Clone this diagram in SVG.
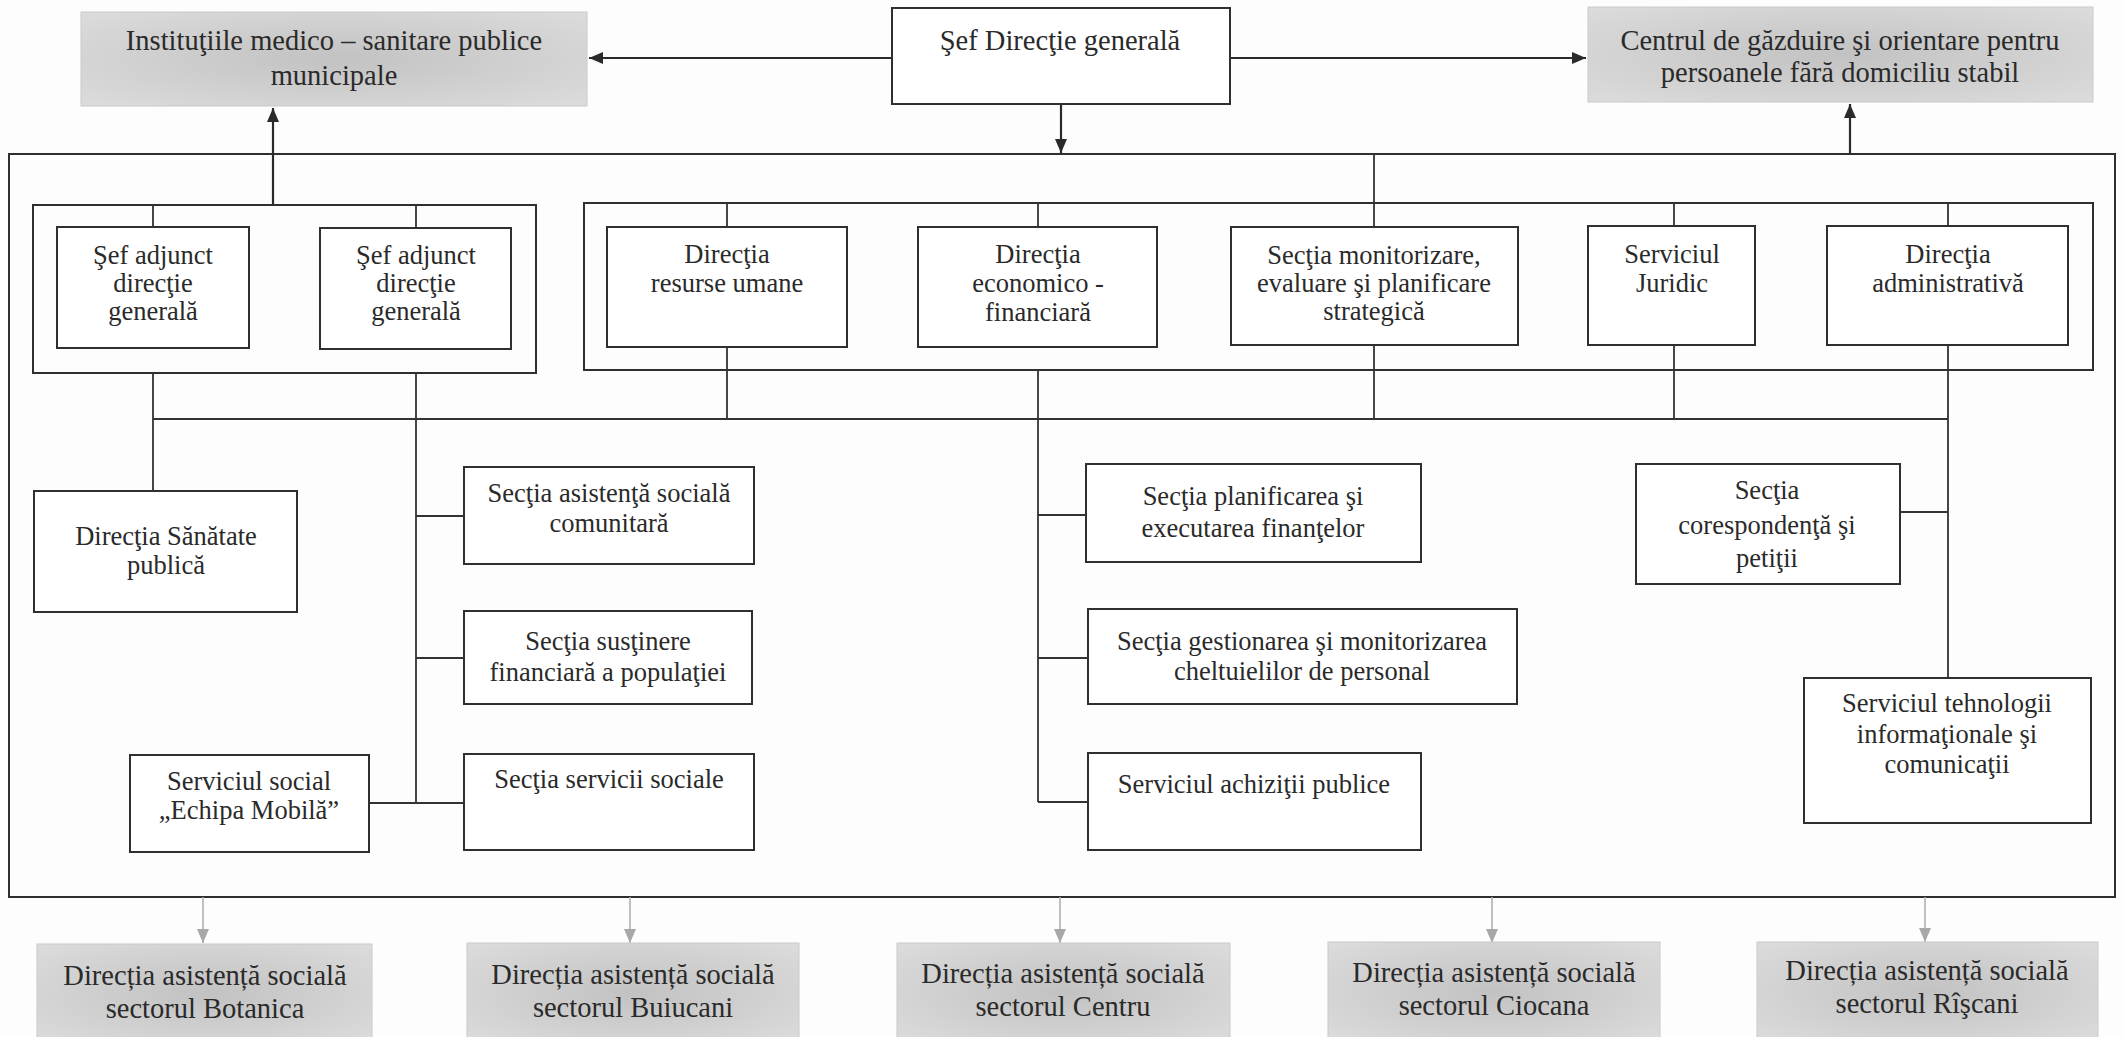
<svg xmlns="http://www.w3.org/2000/svg" width="2124" height="1037" viewBox="0 0 2124 1037">
<defs>
<radialGradient id="gray" cx="50%" cy="50%" r="70%">
<stop offset="0" stop-color="#c2c2c2"/>
<stop offset="1" stop-color="#dcdcdc"/>
</radialGradient>
<marker id="ah" viewBox="0 0 14 12" refX="14" refY="6" markerWidth="14" markerHeight="12" markerUnits="userSpaceOnUse" orient="auto"><path d="M0,0 L14,6 L0,12 z" fill="#2a2a2a"/></marker>
<marker id="ahg" viewBox="0 0 14 12" refX="14" refY="6" markerWidth="14" markerHeight="12" markerUnits="userSpaceOnUse" orient="auto"><path d="M0,0 L14,6 L0,12 z" fill="#a8a8a8"/></marker>
<style>
.box{fill:#fff;stroke:#2f2f2f;stroke-width:2}
.grp{fill:none;stroke:#2f2f2f;stroke-width:2}
.gbox{fill:url(#gray);stroke:#cacaca;stroke-width:1}
.ln{stroke:#333;stroke-width:1.8;fill:none}
.arr{stroke:#2a2a2a;stroke-width:2.2;fill:none;marker-end:url(#ah)}
.garr{stroke:#b0b0b0;stroke-width:1.6;fill:none;marker-end:url(#ahg)}
text{font-family:"Liberation Serif","Times New Roman",serif;fill:#2a2a2a;text-anchor:middle}
.t{font-size:26.5px}
.T{font-size:28.5px}
</style>
</defs>
<rect width="2124" height="1037" fill="#fdfdfd"/>

<g id="frames">
<rect class="grp" x="9" y="154" width="2106" height="743"/>
<rect class="grp" x="33" y="205" width="503" height="168"/>
<rect class="grp" x="584" y="203" width="1509" height="167"/>
</g>

<g id="connectors">
<path class="arr" d="M892,58 H589"/>
<path class="arr" d="M1230,58 H1586"/>
<path class="arr" d="M1061,104 V153"/>
<path class="arr" d="M273,205 V108"/>
<path class="arr" d="M1850,154 V104"/>
<path class="ln" d="M153,205 V227 M416,205 V228 M727,203 V227 M1038,203 V227 M1374,154 V227 M1674,203 V226 M1948,203 V226"/>
<path class="ln" d="M153,373 V491 M416,373 V803 M727,347 V419 M1038,370 V802 M1374,345 V419 M1674,345 V419 M1948,345 V678"/>
<path class="ln" d="M153,419 H1948"/>
<path class="ln" d="M416,516 H464 M416,658 H464 M369,803 H464 M1038,515 H1086 M1038,658 H1088 M1038,802 H1088 M1900,512 H1948"/>
<path class="garr" d="M203,897 V943"/>
<path class="garr" d="M630,897 V943"/>
<path class="garr" d="M1060,897 V943"/>
<path class="garr" d="M1492,897 V943"/>
<path class="garr" d="M1925,897 V942"/>
</g>

<g id="n-institutii">
<rect class="gbox" x="81" y="12" width="506" height="94"/>
<text class="T" x="334" y="50">Instituţiile medico – sanitare publice</text>
<text class="T" x="334" y="85">municipale</text>
</g>
<g id="n-sef">
<rect class="box" x="892" y="8" width="338" height="96"/>
<text class="T" x="1060" y="50">Şef Direcţie generală</text>
</g>
<g id="n-centrul">
<rect class="gbox" x="1588" y="7" width="505" height="95"/>
<text class="T" x="1840" y="50">Centrul de găzduire şi orientare pentru</text>
<text class="T" x="1840" y="82">persoanele fără domiciliu stabil</text>
</g>

<g id="n-adj1">
<rect class="box" x="57" y="227" width="192" height="121"/>
<text class="t" x="153" y="264">Şef adjunct</text>
<text class="t" x="153" y="292">direcţie</text>
<text class="t" x="153" y="320">generală</text>
</g>
<g id="n-adj2">
<rect class="box" x="320" y="228" width="191" height="121"/>
<text class="t" x="416" y="264">Şef adjunct</text>
<text class="t" x="416" y="292">direcţie</text>
<text class="t" x="416" y="320">generală</text>
</g>
<g id="n-resurse">
<rect class="box" x="607" y="227" width="240" height="120"/>
<text class="t" x="727" y="263">Direcţia</text>
<text class="t" x="727" y="292">resurse umane</text>
</g>
<g id="n-economico">
<rect class="box" x="918" y="227" width="239" height="120"/>
<text class="t" x="1038" y="263">Direcţia</text>
<text class="t" x="1038" y="292">economico -</text>
<text class="t" x="1038" y="321">financiară</text>
</g>
<g id="n-monitorizare">
<rect class="box" x="1231" y="227" width="287" height="118"/>
<text class="t" x="1374" y="264">Secţia monitorizare,</text>
<text class="t" x="1374" y="292">evaluare şi planificare</text>
<text class="t" x="1374" y="320">strategică</text>
</g>
<g id="n-juridic">
<rect class="box" x="1588" y="226" width="167" height="119"/>
<text class="t" x="1672" y="263">Serviciul</text>
<text class="t" x="1672" y="292">Juridic</text>
</g>
<g id="n-administrativa">
<rect class="box" x="1827" y="226" width="241" height="119"/>
<text class="t" x="1948" y="263">Direcţia</text>
<text class="t" x="1948" y="292">administrativă</text>
</g>

<g id="n-sanatate">
<rect class="box" x="34" y="491" width="263" height="121"/>
<text class="t" x="166" y="545">Direcţia Sănătate</text>
<text class="t" x="166" y="574">publică</text>
</g>
<g id="n-asistenta">
<rect class="box" x="464" y="467" width="290" height="97"/>
<text class="t" x="609" y="502">Secţia asistenţă socială</text>
<text class="t" x="609" y="532">comunitară</text>
</g>
<g id="n-sustinere">
<rect class="box" x="464" y="611" width="288" height="93"/>
<text class="t" x="608" y="650">Secţia susţinere</text>
<text class="t" x="608" y="681">financiară a populaţiei</text>
</g>
<g id="n-servicii">
<rect class="box" x="464" y="754" width="290" height="96"/>
<text class="t" x="609" y="788">Secţia servicii sociale</text>
</g>
<g id="n-echipa">
<rect class="box" x="130" y="755" width="239" height="97"/>
<text class="t" x="249" y="790">Serviciul social</text>
<text class="t" x="249" y="819">„Echipa Mobilă”</text>
</g>

<g id="n-planificarea">
<rect class="box" x="1086" y="464" width="335" height="98"/>
<text class="t" x="1253" y="505">Secţia planificarea şi</text>
<text class="t" x="1253" y="537">executarea finanţelor</text>
</g>
<g id="n-gestionarea">
<rect class="box" x="1088" y="609" width="429" height="95"/>
<text class="t" x="1302" y="650">Secţia gestionarea şi monitorizarea</text>
<text class="t" x="1302" y="680">cheltuielilor de personal</text>
</g>
<g id="n-achizitii">
<rect class="box" x="1088" y="753" width="333" height="97"/>
<text class="t" x="1254" y="793">Serviciul achiziţii publice</text>
</g>
<g id="n-corespondenta">
<rect class="box" x="1636" y="464" width="264" height="120"/>
<text class="t" x="1767" y="499">Secţia</text>
<text class="t" x="1767" y="534">corespondenţă şi</text>
<text class="t" x="1767" y="567">petiţii</text>
</g>
<g id="n-tehnologii">
<rect class="box" x="1804" y="678" width="287" height="145"/>
<text class="t" x="1947" y="712">Serviciul tehnologii</text>
<text class="t" x="1947" y="743">informaţionale şi</text>
<text class="t" x="1947" y="773">comunicaţii</text>
</g>

<g id="n-botanica">
<rect class="gbox" x="37" y="944" width="335" height="100"/>
<text class="T" x="205" y="985">Direcția asistență socială</text>
<text class="T" x="205" y="1018">sectorul Botanica</text>
</g>
<g id="n-buiucani">
<rect class="gbox" x="467" y="943" width="332" height="100"/>
<text class="T" x="633" y="984">Direcția asistență socială</text>
<text class="T" x="633" y="1017">sectorul Buiucani</text>
</g>
<g id="n-centru">
<rect class="gbox" x="897" y="943" width="333" height="100"/>
<text class="T" x="1063" y="983">Direcția asistență socială</text>
<text class="T" x="1063" y="1016">sectorul Centru</text>
</g>
<g id="n-ciocana">
<rect class="gbox" x="1328" y="942" width="332" height="100"/>
<text class="T" x="1494" y="982">Direcția asistență socială</text>
<text class="T" x="1494" y="1015">sectorul Ciocana</text>
</g>
<g id="n-riscani">
<rect class="gbox" x="1757" y="942" width="341" height="100"/>
<text class="T" x="1927" y="980">Direcția asistență socială</text>
<text class="T" x="1927" y="1013">sectorul Rîşcani</text>
</g>
</svg>
